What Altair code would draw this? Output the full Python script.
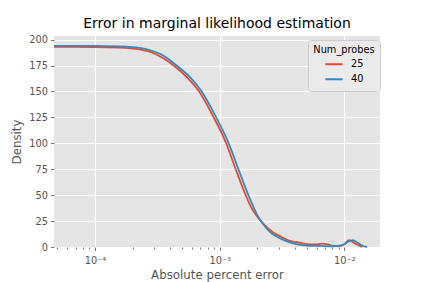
import altair as alt
import pandas as pd

# ---- data (KDE curves, log-x) ----
x_25 = [4.69e-5, 1.0e-4, 1.57e-4, 2.28e-4, 2.74e-4, 3.42e-4, 4.27e-4, 5.53e-4, 6.84e-4,
        8.95e-4, 1.128e-3, 1.344e-3, 1.617e-3, 1.774e-3, 1.982e-3, 2.256e-3, 2.617e-3,
        3.09e-3, 3.65e-3, 4.39e-3, 5.28e-3, 5.90e-3, 6.59e-3, 7.36e-3, 8.09e-3, 8.87e-3,
        9.91e-3, 1.087e-2, 1.192e-2, 1.283e-2, 1.383e-2]
y_25 = [193.0, 192.8, 192.3, 190.5, 188.5, 183.0, 175.0, 163.0, 150.0,
        125.0, 100.0, 75.0, 50.0, 39.0, 30.0, 22.0, 15.0,
        10.0, 6.0, 4.0, 2.5, 2.5, 3.2, 2.5, 1.0, 0.7,
        2.5, 6.5, 4.0, 2.0, 0.0]

x_40 = [4.69e-5, 1.0e-4, 1.57e-4, 2.28e-4, 2.74e-4, 3.42e-4, 4.52e-4, 5.80e-4, 7.17e-4,
        9.37e-4, 1.181e-3, 1.413e-3, 1.700e-3, 1.858e-3, 2.019e-3, 2.298e-3, 2.617e-3,
        3.09e-3, 3.65e-3, 4.39e-3, 5.28e-3, 6.35e-3, 8.09e-3, 9.73e-3, 1.067e-2,
        1.170e-2, 1.283e-2, 1.409e-2, 1.517e-2]
y_40 = [194.0, 194.0, 193.5, 192.0, 190.0, 185.5, 175.0, 163.5, 150.0,
        125.0, 100.0, 75.0, 50.0, 39.0, 30.0, 20.0, 13.0,
        8.0, 4.5, 2.0, 1.2, 1.0, 0.7, 2.0, 5.0,
        6.5, 4.0, 1.0, 0.0]

groups = ["25", "40"]
colors = ["#E24A33", "#348ABD"]

major_x = [1e-4, 1e-3, 1e-2]
minor_x = [5e-5, 6e-5, 7e-5, 8e-5, 9e-5,
           2e-4, 3e-4, 4e-4, 5e-4, 6e-4, 7e-4, 8e-4, 9e-4,
           2e-3, 3e-3, 4e-3, 5e-3, 6e-3, 7e-3, 8e-3, 9e-3]
y_ticks = [0, 25, 50, 75, 100, 125, 150, 175, 200]

rows = []
for g, xs, ys in [("25", x_25, y_25), ("40", x_40, y_40)]:
    for i, (a, b) in enumerate(zip(xs, ys)):
        rows.append({"x": a, "y": b, "Num_probes": g, "order": i})
df = pd.DataFrame(rows)

LOGV = "(log(datum.value)/LN10)"
MAJOR = f"abs({LOGV} - round({LOGV})) < 0.000001"
label_expr = (f"{MAJOR} ? ('10' + (round({LOGV}) == -4 ? '⁻⁴' : "
              f"(round({LOGV}) == -3 ? '⁻³' : '⁻²'))) : ''")

FONT = "DejaVu Sans"

chart = alt.Chart(df).mark_line(strokeWidth=1.8, interpolate="monotone").encode(
    x=alt.X("x:Q",
            scale=alt.Scale(type="log", domain=[4.69e-5, 1.93e-2], nice=False),
            axis=alt.Axis(values=major_x + minor_x, labelExpr=label_expr,
                          title="Absolute percent error",
                          tickSize={"condition": {"test": MAJOR, "value": 3.5}, "value": 2},
                          gridOpacity={"condition": {"test": MAJOR, "value": 1}, "value": 0},
                          labelPadding=5, titlePadding=4)),
    y=alt.Y("y:Q", scale=alt.Scale(domain=[0, 203.5], nice=False),
            axis=alt.Axis(values=y_ticks, title="Density", tickSize=3.5,
                          labelPadding=3, titlePadding=6)),
    color=alt.Color("Num_probes:N",
                    scale=alt.Scale(domain=groups, range=colors),
                    legend=alt.Legend(title="Num_probes", orient="none",
                                      legendX=254, legendY=4,
                                      symbolType="stroke", symbolSize=300,
                                      symbolStrokeWidth=2, clipHeight=13,
                                      titleAnchor="middle", titleAlign="center",
                                      titlePadding=3,
                                      padding=5, rowPadding=2, labelOffset=7,
                                      fillColor="#EBEBEB", strokeColor="#CCCCCC",
                                      cornerRadius=3)),
    detail="Num_probes:N",
    order="order:Q",
).properties(
    width=326, height=211,
    background="#FFFFFF",
    title=alt.TitleParams("Error in marginal likelihood estimation",
                          font=FONT, fontSize=14, fontWeight="normal",
                          color="#000000", anchor="middle", offset=4),
    padding={"left": 54, "top": 36, "right": 43, "bottom": 35},
    autosize=alt.AutoSizeParams(type="none"),
).configure_view(
    fill="#E5E5E5", stroke=None
).configure_axis(
    domain=False, grid=True, gridColor="#FFFFFF", gridWidth=1,
    tickColor="#555555", tickWidth=0.8,
    labelFont=FONT, labelFontSize=9.8, labelColor="#555555",
    titleFont=FONT, titleFontSize=11.8, titleColor="#555555", titleFontWeight="normal",
).configure_legend(
    titleFont=FONT, titleFontSize=9.8, titleFontWeight="normal", titleColor="#000000",
    labelFont=FONT, labelFontSize=9.8, labelColor="#000000",
)

chart.save("out.html", embed_options={"renderer": "svg", "actions": False})
